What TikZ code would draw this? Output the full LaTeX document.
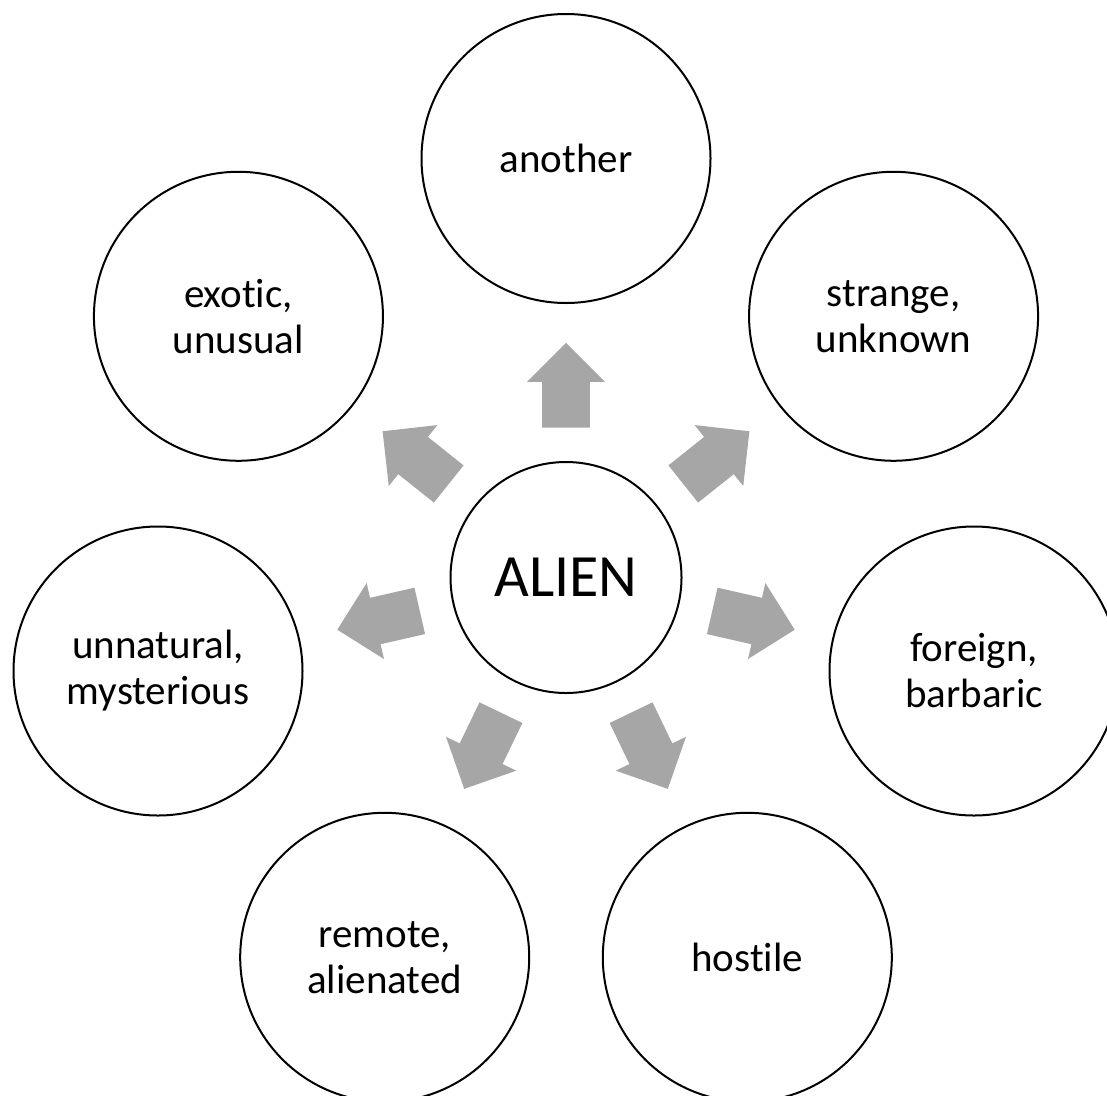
\documentclass[tikz,border=0pt]{standalone}
\usepackage{fontspec}
\setmainfont{Carlito}[Ligatures={NoCommon,NoDiscretionary}]
\usetikzlibrary{calc}
\definecolor{arrowgray}{HTML}{A6A6A6}
\begin{document}
\begin{tikzpicture}[x=1pt,y=-1pt,
  bubble/.style={circle,draw=black,line width=2pt,minimum size=289pt,inner sep=0pt,align=center,font=\fontsize{41}{46}\selectfont},
  hub/.style={circle,draw=black,line width=2pt,minimum size=231pt,inner sep=0pt,font=\fontsize{60}{72}\selectfont},
  blockarrow/.style={fill=arrowgray,draw=none}]
\useasboundingbox (0,0) rectangle (1107,1095);
\clip (0,0) rectangle (1107,1095);
\coordinate (c) at (566,577.5);
\node[hub] (alien) at (c) {ALIEN};
\node[bubble] (n1) at ($(c)+(90:419pt)$) {another};
\node[bubble] (n2) at ($(c)+(38.571:419pt)$) {strange,\\unknown};
\node[bubble] (n3) at (974,671) {foreign,\\barbaric};
\node[bubble] (n4) at (747.3,957.3) {hostile};
\node[bubble] (n5) at (384.7,957.3) {remote,\\alienated};
\node[bubble] (n6) at (158,671) {unnatural,\\mysterious};
\node[bubble] (n7) at ($(c)+(141.429:419pt)$) {exotic,\\unusual};
\foreach \a in {90,38.571,-12.857,-64.286,-115.714,-167.143,141.429}{
  \begin{scope}[shift={(c)},rotate=\a]
    \fill[blockarrow] (150,-23.8) -- (195.6,-23.8) -- (195.6,-39) -- (234.6,0) -- (195.6,39) -- (195.6,23.8) -- (150,23.8) -- cycle;
  \end{scope}
}
\end{tikzpicture}
\end{document}
